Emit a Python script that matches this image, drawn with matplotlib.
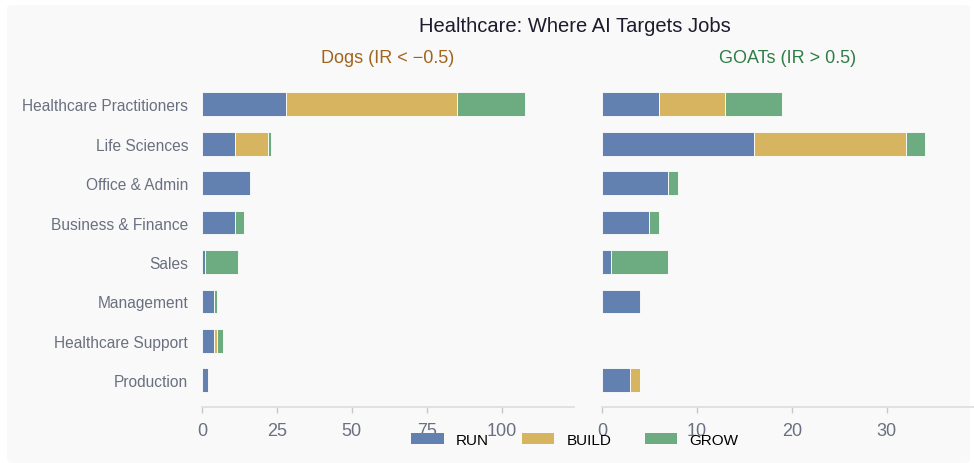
import numpy as np
import matplotlib
matplotlib.use("Agg")
import matplotlib.pyplot as plt
from matplotlib.patches import FancyBboxPatch, Patch

plt.rcParams['font.family'] = ['Liberation Sans', 'DejaVu Sans']

# Occupation groups, top to bottom
categories = ['Healthcare Practitioners', 'Life Sciences', 'Office & Admin',
              'Business & Finance', 'Sales', 'Management',
              'Healthcare Support', 'Production']

# Job counts per group (Dogs panel)
dogs_run = [28, 11, 16, 11, 1, 4, 4, 2]
dogs_build = [57, 11, 0, 0, 0, 0, 1, 0]
dogs_grow = [23, 1, 0, 3, 11, 1, 2, 0]

# Job counts per group (GOATs panel)
goats_run = [6, 16, 7, 5, 1, 4, 0, 3]
goats_build = [7, 16, 0, 0, 0, 0, 0, 1]
goats_grow = [6, 2, 1, 1, 6, 0, 0, 0]

dogs_ticks = [0, 25, 50, 75, 100]
goats_ticks = [0, 10, 20, 30]

c_run = '#6381b0'
c_build = '#d7b45f'
c_grow = '#6dab81'
bg = '#f9f9f9'

W, H = 974, 464
fig = plt.figure(figsize=(W / 100, H / 100), dpi=100, facecolor='white')

# light panel behind everything
panel = FancyBboxPatch((7 / W, 0), (970 - 7) / W, (H - 6) / H,
                       boxstyle='round,pad=0,rounding_size=0.006',
                       transform=fig.transFigure, facecolor=bg,
                       edgecolor='none', zorder=-10)
fig.add_artist(panel)

ax_bottom = (H - 408) / H
ax_height = (408 - 78.5) / H
ax1 = fig.add_axes([202 / W, ax_bottom, 372 / W, ax_height])
ax2 = fig.add_axes([602 / W, ax_bottom, 372 / W, ax_height])

y = np.arange(len(categories))


def stacked(ax, run, build, grow):
    run = np.array(run)
    build = np.array(build)
    grow = np.array(grow)
    left = np.zeros(len(run))
    for vals, col in [(run, c_run), (build, c_build), (grow, c_grow)]:
        lw = [0.6 if v > 0 else 0 for v in vals]
        ax.barh(y, vals, left=left, color=col, height=0.6,
                edgecolor='white', linewidth=lw)
        left = left + vals
    ax.set_facecolor('none')
    ax.set_ylim(len(categories) - 1 + 0.68, -0.68)
    for s in ['top', 'right', 'left']:
        ax.spines[s].set_visible(False)
    ax.spines['bottom'].set_color('#dddddd')
    ax.spines['bottom'].set_linewidth(1.2)
    ax.tick_params(axis='x', colors='#c8c8c8', length=4, width=1, pad=7,
                   labelsize=13, labelcolor='#6b7080')
    ax.tick_params(axis='y', length=0)


stacked(ax1, dogs_run, dogs_build, dogs_grow)
stacked(ax2, goats_run, goats_build, goats_grow)

ax1.set_xlim(0, 124.2)
ax1.set_xticks(dogs_ticks)
ax1.set_yticks(y)
ax1.set_yticklabels(categories, fontsize=11.2, color='#6b7080')
ax1.tick_params(axis='y', pad=10)

ax2.set_xlim(0, 39.2)
ax2.set_xticks(goats_ticks)
ax2.set_yticks(y)
ax2.set_yticklabels([])

ax1.set_title('Dogs (IR < \u22120.5)', color='#a0641c', fontsize=13, pad=11)
ax2.set_title('GOATs (IR > 0.5)', color='#2e7d46', fontsize=13, pad=11)

fig.text(575 / W, 1 - 27 / H, 'Healthcare: Where AI Targets Jobs',
         ha='center', va='center', fontsize=14.5, color='#1c1c2c')

handles = [Patch(facecolor=c_run, label='RUN'),
           Patch(facecolor=c_build, label='BUILD'),
           Patch(facecolor=c_grow, label='GROW')]
fig.legend(handles=handles, loc='center', bbox_to_anchor=(575 / W, 1 - 441 / H),
           ncol=3, frameon=False, fontsize=11, handlelength=2.1,
           handleheight=0.7, handletextpad=0.8, columnspacing=2.2)

plt.savefig('out.png', dpi=100, facecolor='white')
